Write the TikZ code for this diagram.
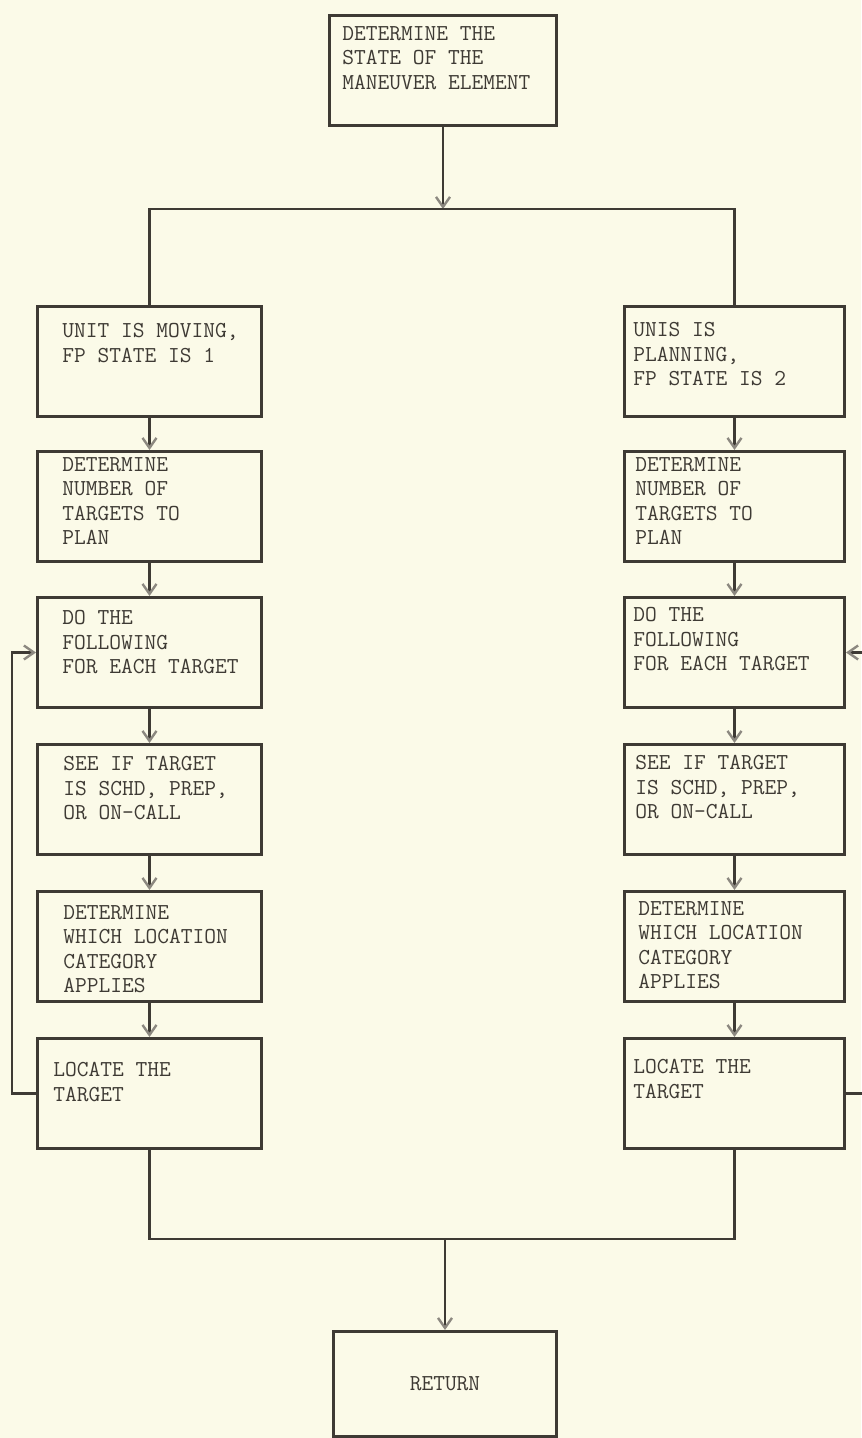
\documentclass[tikz,border=0pt]{standalone}
\usepackage{fontspec}
\usepackage{xcolor}
\usepackage{tikz}
\usetikzlibrary{positioning,arrows.meta,calc}

\definecolor{paper}{RGB}{251,250,232}
\definecolor{ink}{RGB}{62,58,52}
\definecolor{tipink}{RGB}{140,136,128}

\tikzset{
  stepbox/.style={draw=ink, line width=1.5pt, anchor=north west, inner sep=0pt,
    minimum height=55pt},
  lbox/.style={minimum width=112pt},
  rbox/.style={minimum width=110pt},
  steptxt/.style={anchor=north west, inner sep=0pt, align=left, text=ink,
    font=\fontsize{11.4}{12.2}\selectfont\ttfamily\addfontfeature{FakeBold=0.8}},
  flow/.style={draw=ink, line width=1.2pt},
  arr/.style={flow, -{Straight Barb[length=5pt,width=7pt,color=tipink]}}
}

\begin{document}
\begin{tikzpicture}[x=0.5pt,y=-0.5pt]
    \fill[paper] (0,0) rectangle (861,1438);
    \useasboundingbox (0,0) rectangle (861,1438);

    % start box
    \node[stepbox, minimum width=113.5pt] (top) at (328,14) {};
    \node[steptxt] (topt) at ([shift={(14,12)}]top.north west) {DETERMINE THE\\STATE OF THE\\MANEUVER ELEMENT};

    % the two columns
    \foreach \i/\y in {1/305,2/450,3/596,4/743,5/890,6/1037} {
        \node[stepbox, lbox] (l\i) at (36,\y) {};
        \node[stepbox, rbox] (r\i) at (623,\y) {};
    }

    \node[steptxt] (l1t) at ([shift={(26,18)}]l1.north west) {UNIT IS MOVING,\\FP STATE IS 1};
    \node[steptxt] (l2t) at ([shift={(26,7)}]l2.north west) {DETERMINE\\NUMBER OF\\TARGETS TO\\PLAN};
    \node[steptxt] (l3t) at ([shift={(26,14)}]l3.north west) {DO THE\\FOLLOWING\\FOR EACH TARGET};
    \node[steptxt] (l4t) at ([shift={(27,13)}]l4.north west) {SEE IF TARGET\\IS SCHD, PREP,\\OR ON-CALL};
    \node[steptxt] (l5t) at ([shift={(27,15)}]l5.north west) {DETERMINE\\WHICH LOCATION\\CATEGORY\\APPLIES};
    \node[steptxt] (l6t) at ([shift={(17,25)}]l6.north west) {LOCATE THE\\TARGET};

    \node[steptxt] (r1t) at ([shift={(10,17)}]r1.north west) {UNIS IS\\PLANNING,\\FP STATE IS 2};
    \node[steptxt] (r2t) at ([shift={(12,7)}]r2.north west) {DETERMINE\\NUMBER OF\\TARGETS TO\\PLAN};
    \node[steptxt] (r3t) at ([shift={(10,11)}]r3.north west) {DO THE\\FOLLOWING\\FOR EACH TARGET};
    \node[steptxt] (r4t) at ([shift={(12,12)}]r4.north west) {SEE IF TARGET\\IS SCHD, PREP,\\OR ON-CALL};
    \node[steptxt] (r5t) at ([shift={(15,11)}]r5.north west) {DETERMINE\\WHICH LOCATION\\CATEGORY\\APPLIES};
    \node[steptxt] (r6t) at ([shift={(10,22)}]r6.north west) {LOCATE THE\\TARGET};

    % end box
    \node[stepbox, minimum width=111.5pt, minimum height=52.5pt, steptxt, anchor=north west] (ret) at (332,1330) {RETURN};

    % split and join points
    \coordinate (splity) at (0,209);
    \coordinate (joiny) at (0,1239);
    \coordinate (split) at (top.south |- splity);
    \coordinate (join) at (ret.north |- joiny);
    \coordinate (redge) at (866,0);

    \draw[arr] (top.south) -- (split);
    \draw[flow] (l1.north) |- (split) -| (r1.north);

    \foreach \a/\b in {1/2,2/3,3/4,4/5,5/6} {
        \draw[arr] (l\a.south) -- (l\b.north);
        \draw[arr] (r\a.south) -- (r\b.north);
    }

    % loops back for each target
    \draw[arr] (l6.west) -- ++(-24,0) |- (l3.west);
    \draw[flow] (r6.east) -- (r6.east -| redge);
    \draw[arr] (r3.east -| redge) -- (r3.east);

    \draw[flow] (l6.south) |- (join) -| (r6.south);
    \draw[arr] (join) -- (ret.north);
\end{tikzpicture}
\end{document}
